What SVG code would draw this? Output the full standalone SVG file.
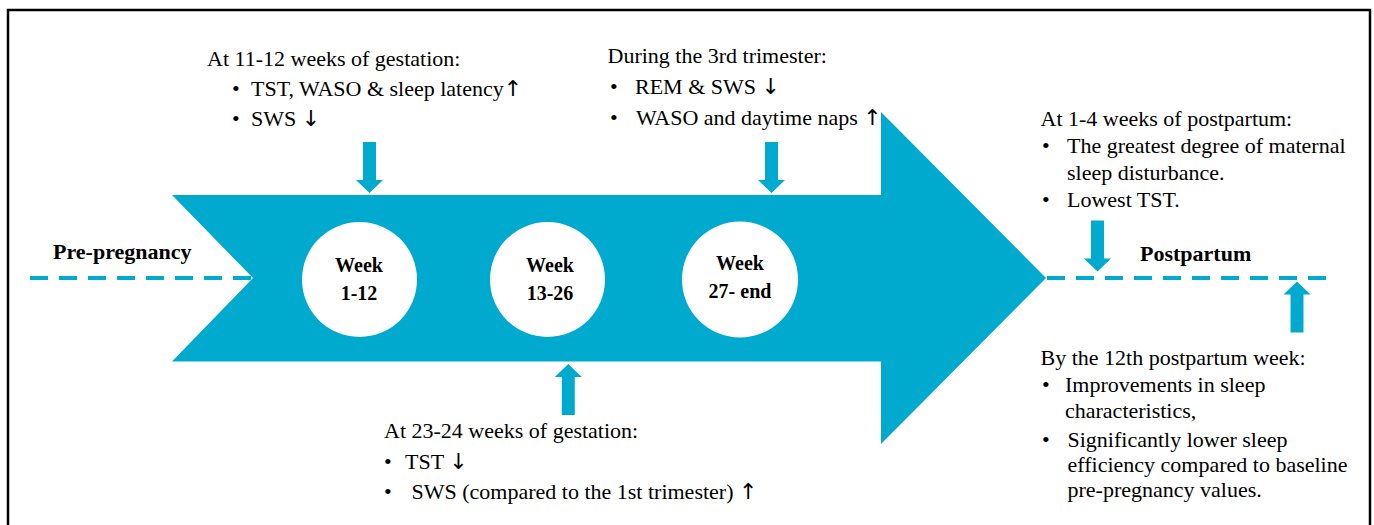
<svg xmlns="http://www.w3.org/2000/svg" xmlns:xlink="http://www.w3.org/1999/xlink" width="1374" height="525" viewBox="0 0 1374 525">
  <style>
    .txt { font-family: "Liberation Serif", "Times New Roman", serif; font-size: 22px; fill: #000; }
    .bold { font-family: "Liberation Serif", "Times New Roman", serif; font-size: 22px; font-weight: bold; fill: #000; }
    .wk { font-family: "Liberation Serif", "Times New Roman", serif; font-size: 20px; font-weight: bold; fill: #000; text-anchor: middle; }
    .ar { font-family: "DejaVu Sans", sans-serif; font-size: 22px; font-weight: normal; fill: #000; }
    .cyan { fill: #00AACE; }
    .dash { stroke: #00AACE; stroke-width: 4; stroke-dasharray: 18 11; fill: none; }
    .circ { fill: #FFFFFF; }
  </style>
  <defs>
    <path id="arrowDown" d="M-6.5,0 H6.5 V38 H13.5 L0,51 L-13.5,38 H-6.5 Z"/>
  </defs>
  <rect width="1374" height="525" fill="#FFFFFF"/>
  <path d="M8,530 V10 H1370 V530" fill="none" stroke="#000" stroke-width="2.5"/>

  <g id="timeline-arrow">
    <polygon class="cyan" points="172,195 881,195 881,112 1046,278 881,444 881,361.5 172,361.5 253,278"/>
  </g>

  <g id="connectors">
    <line class="dash" x1="30" y1="278" x2="252" y2="278"/>
    <line class="dash" x1="1047" y1="278" x2="1326" y2="278"/>
    <use xlink:href="#arrowDown" class="cyan" transform="translate(369.5,142)"/>
    <use xlink:href="#arrowDown" class="cyan" transform="translate(771.5,142)"/>
    <use xlink:href="#arrowDown" class="cyan" transform="translate(568.3,415) scale(1,-1)"/>
    <use xlink:href="#arrowDown" class="cyan" transform="translate(1097.5,220.5)"/>
    <use xlink:href="#arrowDown" class="cyan" transform="translate(1297,332.5) scale(1,-1)"/>
  </g>

  <g id="week-1-12">
    <circle class="circ" cx="359.5" cy="279.5" r="57.5"/>
    <text class="wk" x="359" y="272">Week</text>
    <text class="wk" x="359" y="300">1-12</text>
  </g>
  <g id="week-13-26">
    <circle class="circ" cx="547.5" cy="279.5" r="57.5"/>
    <text class="wk" x="550" y="272">Week</text>
    <text class="wk" x="550" y="300">13-26</text>
  </g>
  <g id="week-27-end">
    <circle class="circ" cx="740" cy="279.5" r="58"/>
    <text class="wk" x="740" y="270">Week</text>
    <text class="wk" x="740" y="298">27- end</text>
  </g>

  <g id="pre-pregnancy">
    <text class="bold" x="53" y="259">Pre-pregnancy</text>
  </g>
  <g id="postpartum">
    <text class="bold" x="1140" y="261">Postpartum</text>
  </g>

  <g id="note-11-12-weeks">
    <text class="txt" x="207" y="66">At 11-12 weeks of gestation:</text>
    <text class="txt" x="232" y="96">•</text>
    <text class="txt" x="251" y="96">TST, WASO &amp; sleep latency<tspan class="ar">↑</tspan></text>
    <text class="txt" x="232" y="126">•</text>
    <text class="txt" x="251" y="126">SWS <tspan class="ar">↓</tspan></text>
  </g>

  <g id="note-3rd-trimester">
    <text class="txt" x="607.5" y="63">During the 3rd trimester:</text>
    <text class="txt" x="610" y="94">•</text>
    <text class="txt" x="635" y="94">REM &amp; SWS <tspan class="ar">↓</tspan></text>
    <text class="txt" x="610" y="125">•</text>
    <text class="txt" x="636" y="125">WASO and daytime naps <tspan class="ar">↑</tspan></text>
  </g>

  <g id="note-23-24-weeks">
    <text class="txt" x="384" y="438">At 23-24 weeks of gestation:</text>
    <text class="txt" x="384" y="469">•</text>
    <text class="txt" x="405" y="469">TST <tspan class="ar">↓</tspan></text>
    <text class="txt" x="384" y="499">•</text>
    <text class="txt" x="411.5" y="499">SWS (compared to the 1st trimester) <tspan class="ar">↑</tspan></text>
  </g>

  <g id="note-1-4-weeks-postpartum">
    <text class="txt" x="1040.5" y="126">At 1-4 weeks of postpartum:</text>
    <text class="txt" x="1042" y="153">•</text>
    <text class="txt" x="1067" y="153">The greatest degree of maternal</text>
    <text class="txt" x="1067" y="179.5">sleep disturbance.</text>
    <text class="txt" x="1042" y="206.5">•</text>
    <text class="txt" x="1067" y="206.5">Lowest TST.</text>
  </g>

  <g id="note-12th-postpartum-week">
    <text class="txt" x="1040.5" y="365">By the 12th postpartum week:</text>
    <text class="txt" x="1042" y="391.5">•</text>
    <text class="txt" x="1065" y="391.5">Improvements in sleep</text>
    <text class="txt" x="1065" y="417.5">characteristics,</text>
    <text class="txt" x="1042" y="446.5">•</text>
    <text class="txt" x="1067.5" y="446.5">Significantly lower sleep</text>
    <text class="txt" x="1067.5" y="471.5">efficiency compared to baseline</text>
    <text class="txt" x="1067.5" y="496.5">pre-pregnancy values.</text>
  </g>
</svg>
